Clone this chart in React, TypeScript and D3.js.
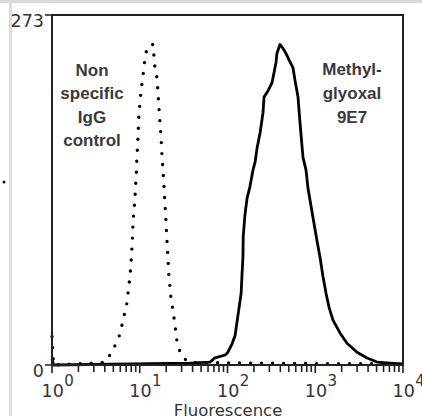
import * as d3 from 'd3';

// Flow cytometry histogram: fluorescence (log) vs. cell count
const Y_MAX = 273;
const X_DOMAIN: [number, number] = [1, 10000];
const DECADES = [0, 1, 2, 3, 4];

// Non specific IgG control (dotted)
const controlFluor = [1, 1.04, 4.0, 4.6, 5.4, 6.1, 6.4, 7.0, 7.5, 7.9, 8.2, 8.4, 8.8, 9.1, 9.3, 9.6, 9.8, 10.1, 10.3, 10.9, 11.5, 12.1, 13.1, 14.2, 14.5, 14.9, 15.7, 16.2, 16.6, 17.0, 17.5, 17.9, 18.4, 18.9, 19.4, 19.9, 20.5, 21.0, 21.5, 22.1, 22.7, 23.9, 25.2, 26.6, 28.8, 31.9, 37.4, 180, 1470, 5460, 10000];
const controlCount = [22, 0, 2, 8, 17, 26, 35, 44, 61, 76, 95, 112, 129, 147, 163, 181, 197, 205, 213, 226, 240, 247, 250, 250, 241, 232, 224, 211, 199, 190, 177, 164, 152, 139, 125, 112, 95, 82, 69, 61, 52, 43, 31, 18, 10, 5, 2, 1.5, 1, 1, 0];

// Methylglyoxal 9E7 (solid)
const mgFluor = [1, 1.04, 37, 63, 72, 94, 101, 112, 122, 128, 135, 143, 146, 150, 151, 158, 167, 180, 195, 206, 217, 235, 254, 261, 290, 321, 339, 357, 366, 396, 429, 464, 502, 557, 588, 636, 670, 725, 785, 826, 942, 1047, 1133, 1225, 1327, 1436, 1593, 1914, 2301, 2992, 3890, 5058, 7114, 10000];
const mgCount = [5, 0, 1.5, 2.3, 5.5, 7.8, 10, 16, 23, 33, 44, 56, 69, 84, 100, 117, 130, 139, 152, 158, 169, 181, 197, 209, 214, 220, 228, 236, 243, 250, 247, 243, 238, 232, 222, 209, 189, 162, 152, 138, 115, 97, 84, 69, 56, 45, 35, 25, 17, 10, 5.5, 2.3, 1.5, 0.8];

const controlLabel = ['Non', 'specific', 'IgG', 'control'];
const mgLabel = ['Methyl-', 'glyoxal', '9E7'];

const W = 422;
const H = 416;
const left = 52, right = 403, top = 15, bottom = 365;

const tickFont = '"DejaVu Sans", sans-serif';
const labelFont = '"Liberation Sans", Arial, sans-serif';

export default function App() {
  const x = d3.scaleLog().domain(X_DOMAIN).range([left, right]);
  const y = d3.scaleLinear().domain([0, Y_MAX]).range([bottom, top]);

  const line = d3.line<[number, number]>()
    .x((d) => x(d[0]))
    .y((d) => y(d[1]));

  const controlPts = controlFluor.map((f, i) => [f, controlCount[i]] as [number, number]);
  const mgPts = mgFluor.map((f, i) => [f, mgCount[i]] as [number, number]);

  const ticks = x.ticks();
  const isMajor = (t: number) => Math.abs(Math.log10(t) - Math.round(Math.log10(t))) < 1e-9;

  return (
    <svg width={W} height={H} style={{ position: 'absolute', left: 0, top: 0, background: '#fff' }}>
      {/* page edges from the source screenshot */}
      <rect x={0} y={0} width={W} height={3} fill="#d9d9d9" />
      <rect x={9} y={0} width={3} height={H} fill="#dcdcdc" />
      <circle cx={4} cy={182} r={1.5} fill="#111" />

      {/* curves */}
      <path d={line(controlPts) ?? ''} fill="none" stroke="#000" strokeWidth={3.4}
        strokeLinecap="round" strokeDasharray="0 11" />
      <path d={line(mgPts) ?? ''} fill="none" stroke="#000" strokeWidth={2.8} strokeLinejoin="round" />

      {/* frame */}
      <rect x={left} y={top} width={right - left} height={bottom - top} fill="none" stroke="#222" strokeWidth={2} />

      {/* y axis ticks */}
      {[0, Y_MAX].map((v) => (
        <g key={v}>
          <line x1={left - 7} x2={left} y1={y(v)} y2={y(v)} stroke="#222" strokeWidth={1.5} />
          <text x={left - 8} y={y(v) + 12} textAnchor="end" fontFamily={tickFont} fontSize={17.5} fill="#333">{v}</text>
        </g>
      ))}

      {/* x axis ticks */}
      {ticks.map((t, i) => (
        <line key={i} x1={x(t)} x2={x(t)} y1={bottom} y2={bottom + (isMajor(t) ? 8 : 7)} stroke="#222" strokeWidth={1.6} />
      ))}
      {DECADES.map((p) => (
        <text key={p} x={x(Math.pow(10, p)) - 10.5} y={397} fontFamily={tickFont} fontSize={17.5} fill="#333">
          10
          <tspan dx={0.5} dy={-11} fontSize={15}>{p}</tspan>
        </text>
      ))}
      <text x={228} y={416} textAnchor="middle" fontFamily={tickFont} fontSize={16.5} fill="#333">Fluorescence</text>

      {/* annotations */}
      {controlLabel.map((s, i) => (
        <text key={s} x={92} y={76 + i * 23.4} textAnchor="middle" fontFamily={labelFont} fontWeight="bold" fontSize={17} fill="#3a3a3a">{s}</text>
      ))}
      {mgLabel.map((s, i) => (
        <text key={s} x={352} y={75 + i * 23.8} textAnchor="middle" fontFamily={labelFont} fontWeight="bold" fontSize={17} fill="#3a3a3a">{s}</text>
      ))}
    </svg>
  );
}
